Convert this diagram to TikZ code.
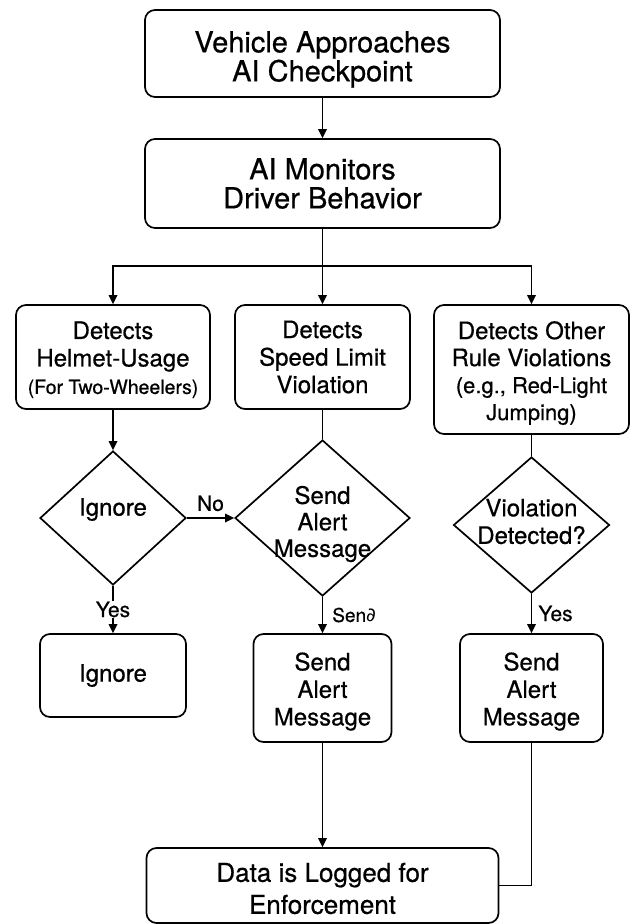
\documentclass[tikz,border=0pt]{standalone}
\usepackage{fontspec}
\setmainfont{TeX Gyre Heros}[FakeBold=0.6]
\newfontfamily\dvs{DejaVu Sans}
\usetikzlibrary{arrows.meta,shapes.geometric}
\begin{document}
\begin{tikzpicture}[x=1pt,y=-1pt,
  line width=1.7pt,
  box/.style={draw, rounded corners=10pt, align=center, inner sep=0pt},
  dshape/.style={draw, diamond, inner sep=0pt},
  dtext/.style={align=center, inner sep=0pt},
  arr/.style={-{Triangle[length=9pt,width=8.5pt]}},
  fbig/.style={font=\fontsize{29}{29}\selectfont},
  fmid/.style={font=\fontsize{24}{27.5}\selectfont},
  flog/.style={font=\fontsize{26}{32}\selectfont},
  lab/.style={font=\fontsize{21}{24}\selectfont, inner sep=1pt}
]
\useasboundingbox (0,0) rectangle (633,924);

% top boxes
\node[box,fbig,minimum width=355pt,minimum height=87pt,text height=62pt] (top) at (322.5,53.5) {Vehicle Approaches\\AI Checkpoint};
\node[box,fbig,minimum width=355pt,minimum height=89pt] (mon) at (322.5,183.5) {AI Monitors\\Driver Behavior};

% detection row
\node[box,fmid,minimum width=194pt,minimum height=104pt,text height=78pt] (helmet) at (113,357) {Detects\\Helmet-Usage\\{\fontsize{19.5}{27.5}\selectfont (For Two-Wheelers)}};
\node[box,fmid,minimum width=175pt,minimum height=104pt] (speed) at (322.5,357) {Detects\\Speed Limit\\Violation};
\node[box,font=\fontsize{24}{27}\selectfont,minimum width=195pt,minimum height=129pt,text height=106pt] (other) at (531.5,369.5) {Detects Other\\Rule Violations\\{\fontsize{22}{27}\selectfont (e.g., Red-Light}\\{\fontsize{22}{27}\selectfont Jumping)}};

% decisions
\node[dshape,minimum width=146pt,minimum height=134pt] (d1) at (113,518) {};
\node[dtext,fmid] (t1) at (113,509.5) {Ignore};
\node[dshape,minimum width=175pt,minimum height=156pt] (d2) at (322.5,518) {};
\node[dtext,font=\fontsize{24}{26.5}\selectfont] (t2) at (322.5,524) {Send\\Alert\\Message};
\node[dshape,minimum width=156pt,minimum height=136pt] (d3) at (531.5,525) {};
\node[dtext,fmid] (t3) at (531.5,521.5) {Violation\\Detected?};

% bottom row
\node[box,fmid,minimum width=146pt,minimum height=83pt] (ign) at (113,675.5) {Ignore};
\node[box,fmid,minimum width=138pt,minimum height=108pt,text height=80pt] (s2) at (322.5,688) {Send\\Alert\\Message};
\node[box,fmid,minimum width=143pt,minimum height=108pt,text height=80pt] (s3) at (531.5,688) {Send\\Alert\\Message};
\node[box,flog,minimum width=352pt,minimum height=75pt,text height=57pt] (log) at (322.5,885.5) {Data is Logged for\\Enforcement};

% connectors
\coordinate (j) at (322.5,266);
\draw[arr] (top) -- (mon);
\draw (mon.south) -- (j);
\draw[arr] (j) -| (helmet.north);
\draw[arr] (j) -- (speed.north);
\draw[arr] (j) -| (other.north);
\draw[arr] (helmet) -- (d1);
\draw (speed) -- (d2);
\draw (other) -- (d3);
\draw[arr] (d1) -- node[lab, above=5pt]{No} (d2);
\draw[arr] (d1) -- node[lab, fill=white]{Yes} (ign);
\draw[arr] (d2) -- node[lab, right=8pt, font=\fontsize{19}{22}\selectfont]{Sen{\dvs ∂}} (s2);
\draw[arr] (d3) -- node[lab, right=5pt]{Yes} (s3);
\draw[arr] (s2) -- (log);
\draw (s3) |- (log);
\end{tikzpicture}
\end{document}
